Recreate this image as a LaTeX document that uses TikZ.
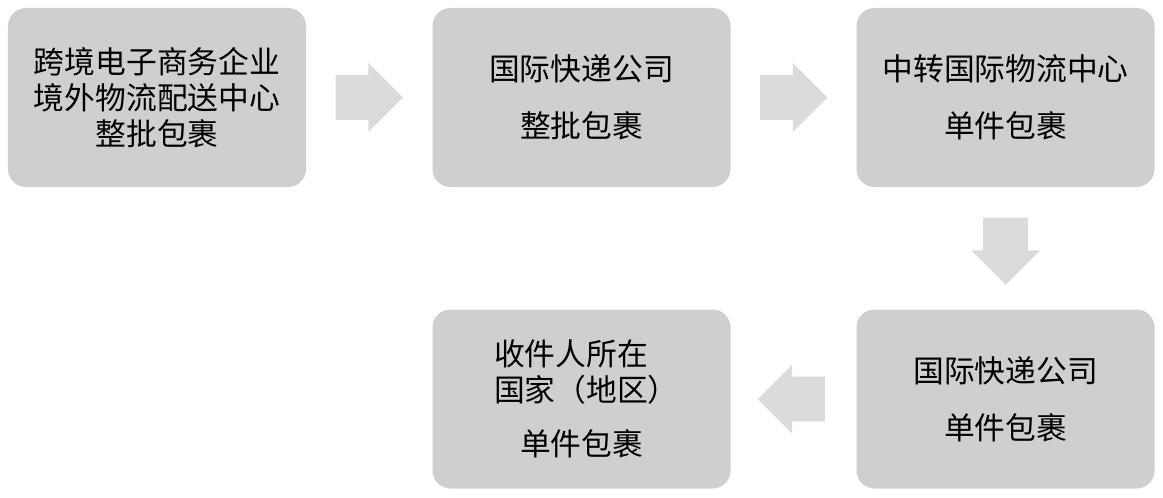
\documentclass[tikz,border=0pt]{standalone}
\usepackage{fontspec}
\newfontfamily\cjk{Noto Sans CJK SC}
\usetikzlibrary{calc,shapes.arrows}

\begin{document}
\begin{tikzpicture}[
  stepbox/.style={
    fill=black!19,
    rounded corners=0.36cm,
    minimum width=5.96cm,
    minimum height=3.58cm,
    align=center,
    inner sep=2pt,
    font=\cjk\fontsize{17.5}{20.5}\selectfont
  },
  blockarrow/.style={
    single arrow,
    fill=black!14,
    draw=none,
    inner sep=0.44cm,
    single arrow head extend=0.24cm,
    minimum height=1.28cm
  }
]
  \useasboundingbox (0,0) rectangle (23.26,-9.96);

  \node[stepbox] (seller) at (3.14,-1.95)
    {跨境电子商务企业\\境外物流配送中心\\整批包裹};
  \node[stepbox] (express-bulk) at (11.63,-1.95)
    {国际快递公司\\[12pt]整批包裹};
  \node[stepbox] (transit) at (20.11,-1.95)
    {中转国际物流中心\\[12pt]单件包裹};
  \node[stepbox] (express-single) at (20.11,-7.98)
    {国际快递公司\\[12pt]单件包裹};
  \node[stepbox] (receiver) at (11.63,-7.98)
    {\makebox[3.5cm][l]{收件人所在}\\\makebox[3.5cm][l]{国家（地区）}\\[10pt]单件包裹};

  \node[blockarrow,anchor=tail] (arrow-a) at ($(seller.east)+(0.58,0)$) {};
  \node[blockarrow,anchor=tail] (arrow-b) at ($(express-bulk.east)+(0.58,0)$) {};
  \node[blockarrow,shape border rotate=270,anchor=tail] (arrow-c)
    at ($(transit.south)+(0,-0.6)$) {};
  \node[blockarrow,shape border rotate=180,anchor=tail] (arrow-d)
    at ($(express-single.west)+(-0.62,0)$) {};
\end{tikzpicture}
\end{document}
